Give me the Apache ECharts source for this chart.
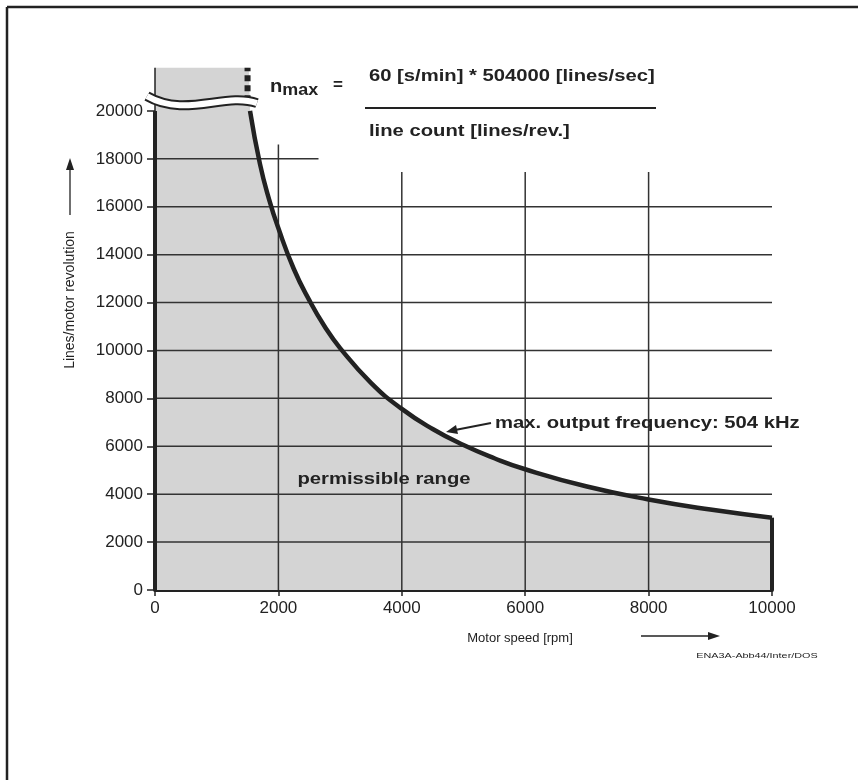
<!DOCTYPE html>
<html>
<head>
<meta charset="utf-8">
<script src="https://cdn.jsdelivr.net/npm/echarts@6/dist/echarts.min.js"></script>
<style>
html,body{margin:0;padding:0;background:#fff;}
#c{width:858px;height:780px;}
</style>
</head>
<body>
<div id="c"></div>
<script>
// ---- data ----
var xTicks = [0, 2000, 4000, 6000, 8000, 10000];
var yTicks = [0, 2000, 4000, 6000, 8000, 10000, 12000, 14000, 16000, 18000, 20000];
// max line count vs motor speed (504 kHz limit)
var curveSpeed = [1540, 1700, 1850, 2000, 2250, 2500, 2750, 3000, 3500, 4000, 4500, 5000, 5500, 6000, 7000, 8000, 9000, 10000];
var curveLines = [20000, 17800, 16300, 15100, 13400, 12100, 11000, 10100, 8650, 7560, 6720, 6050, 5500, 5040, 4320, 3780, 3360, 3020];
// region above the axis break
var breakLevel = 20000;
var topLevel = 21800;
var breakSpeed = 1520;
// grid lines
var gridHLevels = [2000, 4000, 6000, 8000, 10000, 12000, 14000, 16000];
var gridHShortLevel = 18000, gridHShortEnd = 2650;
var gridVPositions = [2000, 4000, 6000, 8000];
var gridVTops = [18600, 17450, 17450, 17450];

var FONT = '"Liberation Sans", Arial, Helvetica, sans-serif';
var INK = '#222';
var FILL = '#d4d4d4';

var curveData = curveSpeed.map(function (s, i) { return [s, curveLines[i]]; });
var fillData = [[0, topLevel], [breakSpeed, topLevel]].concat(curveData);

var series = [];
// fill of permissible range
series.push({
  type: 'line', data: fillData, symbol: 'none',
  lineStyle: { width: 0 }, areaStyle: { color: FILL, opacity: 1 }, z: 1, silent: true
});
// grid lines
gridHLevels.forEach(function (l) {
  series.push({ type: 'line', data: [[0, l], [10000, l]], symbol: 'none',
    lineStyle: { color: '#333', width: 1.5 }, z: 2, silent: true });
});
series.push({ type: 'line', data: [[0, gridHShortLevel], [gridHShortEnd, gridHShortLevel]], symbol: 'none',
  lineStyle: { color: '#333', width: 1.5 }, z: 2, silent: true });
gridVPositions.forEach(function (p, i) {
  series.push({ type: 'line', data: [[p, 0], [p, gridVTops[i]]], symbol: 'none',
    lineStyle: { color: '#333', width: 1.5 }, z: 2, silent: true });
});
// borders
series.push({ type: 'line', data: [[0, 0], [0, breakLevel]], symbol: 'none',
  lineStyle: { color: INK, width: 4 }, z: 5, silent: true });
series.push({ type: 'line', data: [[0, breakLevel], [0, topLevel]], symbol: 'none',
  lineStyle: { color: INK, width: 1.5 }, z: 5, silent: true });
series.push({ type: 'line', data: [[breakSpeed - 20, breakLevel + 400], [breakSpeed - 20, topLevel]], symbol: 'none',
  lineStyle: { color: INK, width: 6, type: [6, 4] }, z: 5, silent: true });
series.push({ type: 'line', data: curveData, smooth: true, symbol: 'none',
  lineStyle: { color: INK, width: 4.5 }, z: 5, silent: true });
series.push({ type: 'line', data: [[10000, curveLines[curveLines.length - 1]], [10000, 0]], symbol: 'none',
  lineStyle: { color: INK, width: 4 }, z: 5, silent: true });

var chart = echarts.init(document.getElementById('c'), null, { renderer: 'canvas' });
var option = {
  animation: false,
  backgroundColor: '#fff',
  grid: { left: 155, right: 86, top: 63, bottom: 190, containLabel: false },
  xAxis: {
    type: 'value', min: 0, max: 10000, interval: 2000,
    axisLine: { show: true, lineStyle: { color: INK, width: 4 } },
    axisTick: { show: true, length: 6, lineStyle: { color: INK, width: 1.5 } },
    axisLabel: { color: INK, fontFamily: FONT, fontSize: 17, margin: 10,
      formatter: function (v) { return xTicks.indexOf(v) >= 0 ? String(v) : ''; } },
    splitLine: { show: false }
  },
  yAxis: {
    type: 'value', min: 0, max: 22000, interval: 2000,
    axisLine: { show: false },
    axisTick: { show: true, length: 8, lineStyle: { color: INK, width: 1.5 }, customValues: yTicks },
    axisLabel: { color: INK, fontFamily: FONT, fontSize: 17, margin: 12, customValues: yTicks,
      formatter: function (v) { return yTicks.indexOf(v) >= 0 ? String(v) : ''; } },
    splitLine: { show: false }
  },
  series: series
};
chart.setOption(option);

// decorations: frame, axis break, names, annotations
var b = chart.convertToPixel({ gridIndex: 0 }, [0, 20450]);
var bx = b[0], by = b[1];
function wave() {
  return {
    x1: bx - 8, y1: by - 4,
    cpx1: bx + 30, cpy1: by + 18,
    cpx2: bx + 70, cpy2: by - 8,
    x2: bx + 102, y2: by + 3
  };
}
var SX = 1.19;
var graphics = [
  { type: 'line', shape: { x1: 7, y1: 7, x2: 858, y2: 7 }, style: { stroke: INK, lineWidth: 2.5 }, z: 100 },
  { type: 'line', shape: { x1: 7, y1: 7, x2: 7, y2: 780 }, style: { stroke: INK, lineWidth: 2.5 }, z: 100 },
  // axis break
  { type: 'bezierCurve', shape: wave(), style: { stroke: INK, lineWidth: 10, fill: null }, z: 100 },
  { type: 'bezierCurve', shape: wave(), style: { stroke: '#fff', lineWidth: 6, fill: null }, z: 101 },
  // y axis name + arrow
  { type: 'text', x: 70, y: 300, rotation: Math.PI / 2, z: 100,
    style: { text: 'Lines/motor revolution', font: '14px ' + FONT, fill: INK, align: 'center', verticalAlign: 'middle' } },
  { type: 'line', shape: { x1: 70, y1: 215, x2: 70, y2: 166 }, style: { stroke: INK, lineWidth: 1.3 }, z: 100 },
  { type: 'polygon', shape: { points: [[70, 158], [66, 170], [74, 170]] }, style: { fill: INK }, z: 100 },
  // x axis name + arrow
  { type: 'text', x: 520, y: 638, z: 100,
    style: { text: 'Motor speed [rpm]', font: '13px ' + FONT, fill: INK, align: 'center', verticalAlign: 'middle' } },
  { type: 'line', shape: { x1: 641, y1: 636, x2: 710, y2: 636 }, style: { stroke: INK, lineWidth: 1.3 }, z: 100 },
  { type: 'polygon', shape: { points: [[720, 636], [708, 632], [708, 640]] }, style: { fill: INK }, z: 100 },
  { type: 'text', x: 757, y: 656, scaleX: 1.35, z: 100,
    style: { text: 'ENA3A-Abb44/Inter/DOS', font: '8px ' + FONT, fill: INK, align: 'center', verticalAlign: 'middle' } },
  // formula
  { type: 'text', x: 270, y: 87, scaleX: 1.12, z: 100,
    style: { rich: { n: { font: 'bold 18px ' + FONT, fill: INK }, s: { font: 'bold 16px ' + FONT, fill: INK, padding: [7, 0, 0, 0] } },
      text: '{n|n}{s|max}', verticalAlign: 'middle' } },
  { type: 'text', x: 333, y: 85, z: 100,
    style: { text: '=', font: 'bold 17px ' + FONT, fill: INK, verticalAlign: 'middle' } },
  { type: 'text', x: 369, y: 76, scaleX: SX, z: 100,
    style: { text: '60 [s/min] * 504000 [lines/sec]', font: 'bold 17px ' + FONT, fill: INK, verticalAlign: 'middle' } },
  { type: 'line', shape: { x1: 365, y1: 108, x2: 656, y2: 108 }, style: { stroke: INK, lineWidth: 2 }, z: 100 },
  { type: 'text', x: 369, y: 131, scaleX: SX, z: 100,
    style: { text: 'line count [lines/rev.]', font: 'bold 17px ' + FONT, fill: INK, verticalAlign: 'middle' } },
  // annotations
  { type: 'text', x: 495, y: 423, scaleX: SX, z: 100,
    style: { text: 'max. output frequency: 504 kHz', font: 'bold 17px ' + FONT, fill: INK, verticalAlign: 'middle' } },
  { type: 'line', shape: { x1: 491, y1: 423, x2: 455, y2: 430 }, style: { stroke: INK, lineWidth: 2 }, z: 100 },
  { type: 'polygon', shape: { points: [[446, 432], [456, 425], [458, 434]] }, style: { fill: INK }, z: 100 },
  { type: 'text', x: 384, y: 479, scaleX: SX, z: 100,
    style: { text: 'permissible range', font: 'bold 17px ' + FONT, fill: INK, align: 'center', verticalAlign: 'middle' } }
];
chart.setOption({ graphic: graphics });
</script>
</body>
</html>
